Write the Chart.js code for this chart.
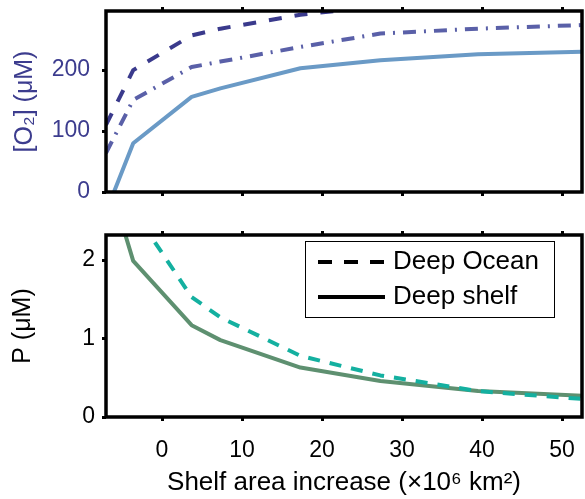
<!DOCTYPE html>
<html><head><meta charset="utf-8">
<script src="https://cdn.jsdelivr.net/npm/chart.js@4/dist/chart.umd.min.js"></script>
<style>
html,body{margin:0;padding:0;background:#fff;}
#w1{position:absolute;left:0;top:0;width:585px;height:215px;}
#w2{position:absolute;left:0;top:215px;width:585px;height:284px;}
</style></head><body>
<div id="w1"><canvas id="c1"></canvas></div>
<div id="w2"><canvas id="c2"></canvas></div>
<script>
// ---- data ----
const shelfArea = [-7, -3.6, 3.7, 7.3, 17.3, 27.3, 39.5, 52.5];
const o2Dashed  = [110, 200, 257, 268, 291, 305, 315, 322];
const o2DashDot = [64, 151, 205, 214, 238, 260, 268, 274];
const o2Solid   = [-33, 80, 156, 170, 203, 216, 226, 230];
const pDeepOcean = [3.16, 2.64, 1.53, 1.27, 0.78, 0.53, 0.33, 0.23];
const pDeepShelf = [3.14, 1.99, 1.17, 0.98, 0.63, 0.46, 0.33, 0.27];
const xTicks = [0, 10, 20, 30, 40, 50];
const o2Ticks = [0, 100, 200];
const pTicks = [0, 1, 2];
const legendLabels = ['Deep Ocean', 'Deep shelf'];

const FONT = 'Liberation Sans, Arial, Helvetica, sans-serif';
const PURPLE = '#3c3c8e';
const pts = (ys) => shelfArea.map((x, i) => ({x, y: ys[i]}));

function frame() {
  return {
    id: 'frame',
    afterDatasetsDraw(chart) {
      const a = chart.chartArea, ctx = chart.ctx;
      ctx.save();
      ctx.strokeStyle = '#000';
      ctx.lineWidth = 3.5;
      ctx.strokeRect(a.left, a.top, a.right - a.left, a.bottom - a.top);
      ctx.restore();
    }
  };
}

function noPad(s) { s.paddingTop = 0; s.paddingBottom = 0; s.paddingLeft = 0; s.paddingRight = 0; }

function xScale(pos, h, showLabels, title) {
  return {
    type: 'linear', position: pos, min: -7, max: 52.5,
    afterBuildTicks: s => { s.ticks = xTicks.map(v => ({value: v})); },
    afterFit: s => { s.height = h; noPad(s); },
    grid: {drawOnChartArea: false, drawTicks: true, tickLength: 4, tickWidth: 3, tickColor: '#000'},
    border: {display: false},
    ticks: {display: showLabels, color: '#000', padding: 16, font: {family: FONT, size: 23}, maxRotation: 0},
    title: title ? {display: true, text: title, color: '#000', font: {family: FONT, size: 26}, padding: {top: 0, bottom: 1}} : {display: false}
  };
}

function yScale(min, max, ticks, color, title, pad, tpad) {
  return {
    type: 'linear', position: 'left', min, max,
    afterBuildTicks: s => { s.ticks = ticks.map(v => ({value: v})); },
    afterFit: s => { s.width = 106; noPad(s); },
    grid: {drawOnChartArea: false, drawTicks: true, tickLength: 4, tickWidth: 3, tickColor: '#000'},
    border: {display: false},
    ticks: {color, padding: pad, font: {family: FONT, size: 23}},
    title: {display: true, text: title, color, font: {family: FONT, size: 25}, padding: {top: tpad, bottom: 0}}
  };
}

const common = {
  responsive: true, maintainAspectRatio: false, animation: false,
  layout: {padding: {left: 0, right: 3, top: 0, bottom: 0}},
  plugins: {legend: {display: false}, tooltip: {enabled: false}},
  elements: {point: {radius: 0}, line: {tension: 0, borderCapStyle: 'butt', borderJoinStyle: 'round'}}
};

new Chart(document.getElementById('c1'), {
  type: 'line',
  data: {datasets: [
    {data: pts(o2Dashed), borderColor: '#3a3a8c', borderWidth: 4, borderDash: [13, 13]},
    {data: pts(o2DashDot), borderColor: '#5a60a8', borderWidth: 4, borderDash: [13, 8, 2, 8]},
    {data: pts(o2Solid), borderColor: '#6a9ac6', borderWidth: 4}
  ]},
  options: Object.assign({}, common, {
    scales: {
      x: xScale('bottom', 23, false, null),
      x2: xScale('top', 11, false, null),
      y: yScale(0, 297, o2Ticks, PURPLE, '[O\u2082] (\u03bcM)', 12, 10)
    }
  }),
  plugins: [frame()]
});

const legendPlugin = {
  id: 'boxLegend',
  afterDraw(chart) {
    const ctx = chart.ctx;
    const x0 = 305, y0 = 241 - 215, w = 249, h = 76;
    ctx.save();
    ctx.fillStyle = '#fff';
    ctx.fillRect(x0, y0, w, h);
    ctx.strokeStyle = '#000'; ctx.lineWidth = 1;
    ctx.strokeRect(x0 + 0.5, y0 + 0.5, w, h);
    ctx.lineWidth = 4; ctx.lineCap = 'butt';
    const rows = [y0 + 21, y0 + 56];
    ctx.setLineDash([14, 12]);
    ctx.beginPath(); ctx.moveTo(318, rows[0]); ctx.lineTo(385, rows[0]); ctx.stroke();
    ctx.setLineDash([]);
    ctx.beginPath(); ctx.moveTo(318, rows[1]); ctx.lineTo(385, rows[1]); ctx.stroke();
    ctx.fillStyle = '#000';
    ctx.font = '26px ' + FONT;
    ctx.textBaseline = 'middle';
    legendLabels.forEach((t, i) => ctx.fillText(t, 393, rows[i]));
    ctx.restore();
  }
};

new Chart(document.getElementById('c2'), {
  type: 'line',
  data: {datasets: [
    {data: pts(pDeepOcean), borderColor: '#14b0a0', borderWidth: 4, borderDash: [12, 10]},
    {data: pts(pDeepShelf), borderColor: '#5e9070', borderWidth: 4}
  ]},
  options: Object.assign({}, common, {
    scales: {
      x: xScale('bottom', 82, true, 'Shelf area increase (\u00d710\u2076 km\u00b2)'),
      x2: xScale('top', 20, false, null),
      y: yScale(0, 2.32, pTicks, '#000', 'P (\u03bcM)', 7, 8)
    }
  }),
  plugins: [frame(), legendPlugin]
});
</script>
</body></html>
